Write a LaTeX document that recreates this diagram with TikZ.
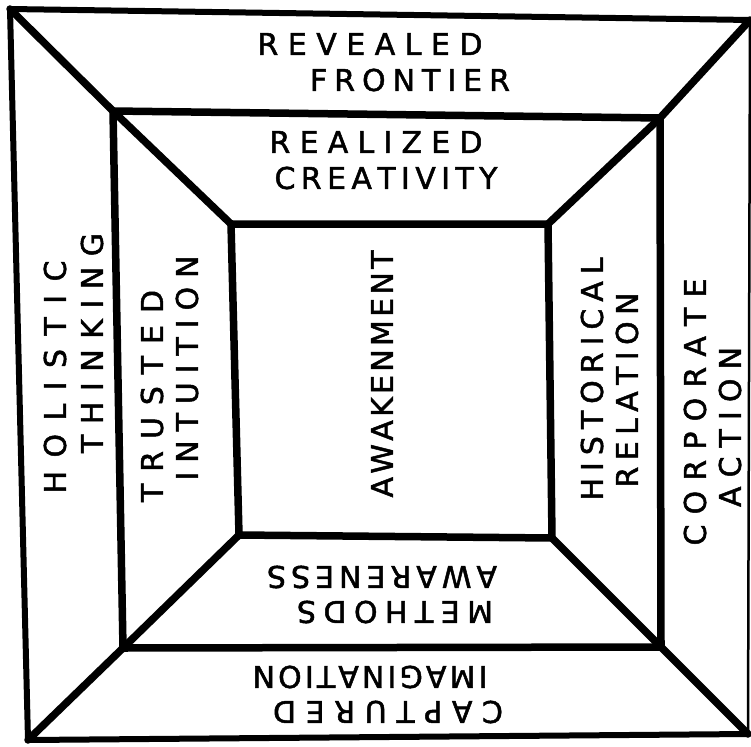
\documentclass[tikz,border=0pt]{standalone}
\usepackage{fontspec}
\setmainfont{DejaVu Sans}
\newfontfamily\handfont{DejaVu Sans}[FakeBold=1.6]

% spread the letters of one word evenly over a given width (in pt)
\def\spreadletters#1{\spreadfirst#1\relax}
\def\spreadfirst#1{#1\spreadrest}
\def\spreadrest#1{\ifx#1\relax\else\hfil#1\expandafter\spreadrest\fi}
\newcommand\fitword[2]{\makebox[#1pt][s]{\spreadletters{#2}}}

\tikzset{
  frame/.style={line width=7.5pt, line join=round, line cap=round},
  word/.style={inner sep=0pt, font=\handfont\fontsize{30}{36}\selectfont},
}

\begin{document}
\begin{tikzpicture}[x=1pt, y=-1pt]
    \useasboundingbox (0,0) rectangle (751,746);

    % corners of the three squares
    \coordinate (o1) at (10,9);
    \coordinate (o2) at (750,20);
    \coordinate (o3) at (748,734);
    \coordinate (o4) at (28,740);
    \coordinate (m1) at (113,111);
    \coordinate (m2) at (660,118);
    \coordinate (m3) at (661,647);
    \coordinate (m4) at (123,648);
    \coordinate (i1) at (231,224);
    \coordinate (i2) at (548,224);
    \coordinate (i3) at (552,538);
    \coordinate (i4) at (239,535);

    % outer square, right edge drawn thin
    \draw[frame, line width=6pt] (o2) -- (o1) -- (o4) -- (o3);
    \draw[line width=2.5pt] (o2) -- (o3);
    % middle and inner squares
    \draw[frame] (m1) -- (m2) -- (m3) -- (m4) -- cycle;
    \draw[frame] (i1) -- (i2) -- (i3) -- (i4) -- cycle;
    % corner diagonals
    \draw[frame] (o1) -- (m1) -- (i1);
    \draw[frame] (o2) -- (m2) -- (i2);
    \draw[frame] (o3) -- (m3) -- (i3);
    \draw[frame] (o4) -- (m4) -- (i4);

    % top band
    \node[word] (revealed) at (370,44) {\fitword{225}{REVEALED}};
    \node[word] (frontier) at (410,80) {\fitword{200}{FRONTIER}};
    \node[word] (realized) at (376,142) {\fitword{213}{REALIZED}};
    \node[word] (creativity) at (386,178) {\fitword{223}{CREATIVITY}};

    % left band
    \node[word, rotate=90] (holistic) at (55,377) {\fitword{233}{HOLISTIC}};
    \node[word, rotate=90] (thinking) at (92,343) {\fitword{220}{THINKING}};
    \node[word, rotate=90] (trusted) at (152,396) {\fitword{212}{TRUSTED}};
    \node[word, rotate=90] (intuition) at (187,368) {\fitword{225}{INTUITION}};

    % centre
    \node[word, rotate=90] (awakenment) at (382,374) {\fitword{247}{AWAKENMENT}};

    % right band
    \node[word, rotate=90] (historical) at (592,379) {\fitword{243}{HISTORICAL}};
    \node[word, rotate=90] (relation) at (627,390) {\fitword{195}{RELATION}};
    \node[word, rotate=90] (corporate) at (695,412) {\fitword{267}{CORPORATE}};
    \node[word, rotate=90] (action) at (730,427) {\fitword{160}{ACTION}};

    % bottom band, upside down
    \node[word, rotate=180] (awareness) at (382,577) {\fitword{230}{AWARENESS}};
    \node[word, rotate=180] (methods) at (395,612) {\fitword{196}{METHODS}};
    \node[word, rotate=180] (imagination) at (370,677) {\fitword{235}{IMAGINATION}};
    \node[word, rotate=180] (captured) at (388,712) {\fitword{230}{CAPTURED}};
\end{tikzpicture}
\end{document}
